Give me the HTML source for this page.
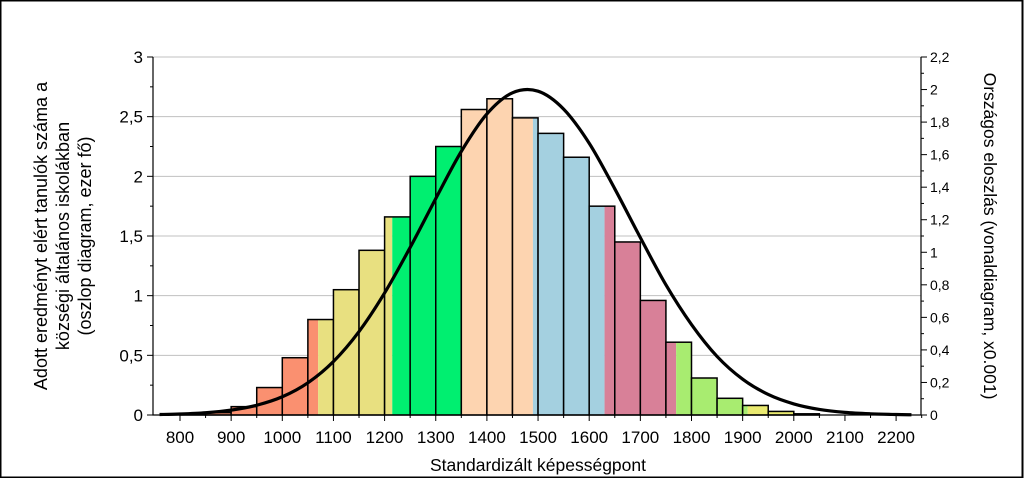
<!DOCTYPE html>
<html><head><meta charset="utf-8"><style>
body{margin:0;background:#fff;}
svg{display:block;font-family:"Liberation Sans",sans-serif;}
</style></head><body>
<svg id="c" width="1024" height="478" viewBox="0 0 1024 478">
<rect x="0.5" y="0.5" width="1022" height="477" fill="#fff" stroke="#000" stroke-width="2"/>
<g id="grid"></g><g id="bars"></g><g id="axes"></g><path id="curve" fill="none" stroke="#000" stroke-width="3.2"/>
<text transform="translate(69,236) rotate(-90)" text-anchor="middle" font-size="18"><tspan x="0" dy="-22">Adott eredményt elért tanulók száma a</tspan><tspan x="0" dy="22">községi általános iskolákban</tspan><tspan x="0" dy="22">(oszlop diagram, ezer fő)</tspan></text>
<text transform="translate(984,236) rotate(90)" text-anchor="middle" font-size="17.5">Országos eloszlás (vonaldiagram, x0.001)</text>
<text x="538" y="471" text-anchor="middle" font-size="17.5">Standardizált képességpont</text>
</svg>
<script>
const binStarts=[800,850,900,950,1000,1050,1100,1150,1200,1250,1300,1350,1400,1450,1500,1550,1600,1650,1700,1750,1800,1850,1900,1950,2000];
const barValues=[0.01,0.02,0.07,0.23,0.48,0.8,1.05,1.38,1.66,2.0,2.25,2.56,2.65,2.49,2.36,2.16,1.75,1.45,0.96,0.61,0.31,0.14,0.08,0.03,0.01];
const bandEdges=[700,1070,1215,1350,1490,1630,1770,1910,2300];
const bandColors=["#fa9070","#e8e080","#00ef70","#fdd4b0","#a4d0e0","#d88098","#a8ec70","#eaea70"];
const curveX=[760,800,850,900,950,1000,1050,1100,1150,1200,1250,1300,1350,1400,1450,1500,1550,1600,1650,1700,1750,1800,1850,1900,1950,2000,2050,2100,2150,2200,2230];
const curveY=[0.003,0.006,0.014,0.03,0.06,0.112,0.198,0.329,0.513,0.75,1.03,1.33,1.62,1.85,1.98,1.99,1.88,1.67,1.39,1.09,0.80,0.556,0.36,0.22,0.126,0.068,0.034,0.016,0.0073,0.003,0.0015];
const xTicks=[800,900,1000,1100,1200,1300,1400,1500,1600,1700,1800,1900,2000,2100,2200];
const yLeftTicks=["0","0,5","1","1,5","2","2,5","3"];
const yRightTicks=["0","0,2","0,4","0,6","0,8","1","1,2","1,4","1,6","1,8","2","2,2"];
const NS="http://www.w3.org/2000/svg";
const X=v=>180+(v-800)*0.5115;
const YL=v=>415-v*(358/3);
const YR=v=>415-v*(358/2.2);
const L=153,R=921,T=57,B=415;
function mk(t,a,p){const e=document.createElementNS(NS,t);for(const k in a)e.setAttribute(k,a[k]);p.appendChild(e);return e;}
const grid=document.getElementById('grid'),bars=document.getElementById('bars'),axes=document.getElementById('axes');
yLeftTicks.forEach((t,i)=>{const y=YL(i*0.5);if(i>0){const g=mk('line',{x1:L,x2:R,y1:y,y2:y,stroke:'#c0c0c0','stroke-width':1},grid);

}
const tk=mk('line',{x1:L-6,x2:L,y1:y,y2:y,stroke:'#000'},axes);


if(i<yLeftTicks.length-1){const m=mk('line',{x1:L-3,x2:L,y1:YL(i*0.5+0.25),y2:YL(i*0.5+0.25),stroke:'#000'},axes);

}
const tx=mk('text',{x:L-10,y:y+6,'text-anchor':'end','font-size':17},axes);tx.textContent=t;

});
yRightTicks.forEach((t,i)=>{const y=YR(i*0.2);
const tk=mk('line',{x1:R,x2:R+6,y1:y,y2:y,stroke:'#000'},axes);


if(i<yRightTicks.length-1){const m=mk('line',{x1:R,x2:R+3,y1:YR(i*0.2+0.1),y2:YR(i*0.2+0.1),stroke:'#000'},axes);

}
const tx=mk('text',{x:R+9,y:y+5,'font-size':14},axes);tx.textContent=t;

});
binStarts.forEach((s,i)=>{const e=s+50,v=barValues[i];const y=YL(v),h=B-y;
for(let b=0;b<bandColors.length;b++){const a=Math.max(s,bandEdges[b]),z=Math.min(e,bandEdges[b+1]);if(z>a){const r=mk('rect',{x:X(a),y:y,width:X(z)-X(a),height:h,fill:bandColors[b]},bars);

}}
const o=mk('rect',{x:X(s),y:y,width:X(e)-X(s),height:h,fill:'none',stroke:'#000','stroke-width':1.5},bars);

});
xTicks.forEach(t=>{const x=X(t);const tk=mk('line',{x1:x,x2:x,y1:B,y2:B+6,stroke:'#000'},axes);


const m=mk('line',{x1:X(t+50),x2:X(t+50),y1:B,y2:B+3,stroke:'#000'},axes);


const tx=mk('text',{x:x,y:B+28,'text-anchor':'middle','font-size':17},axes);tx.textContent=t;

});
const ax=mk('path',{d:`M${L},${T}V${B}H${R}V${T}`,fill:'none',stroke:'#000','stroke-width':1.2},axes);


const P=curveX.map((v,i)=>[X(v),YR(curveY[i])]);
let d=`M${P[0][0]},${P[0][1]}`;
for(let i=0;i<P.length-1;i++){const p0=P[Math.max(0,i-1)],p1=P[i],p2=P[i+1],p3=P[Math.min(P.length-1,i+2)];
d+=`C${p1[0]+(p2[0]-p0[0])/6},${p1[1]+(p2[1]-p0[1])/6} ${p2[0]-(p3[0]-p1[0])/6},${p2[1]-(p3[1]-p1[1])/6} ${p2[0]},${p2[1]}`;}
document.getElementById('curve').setAttribute('d',d);
</script>
</body></html>
